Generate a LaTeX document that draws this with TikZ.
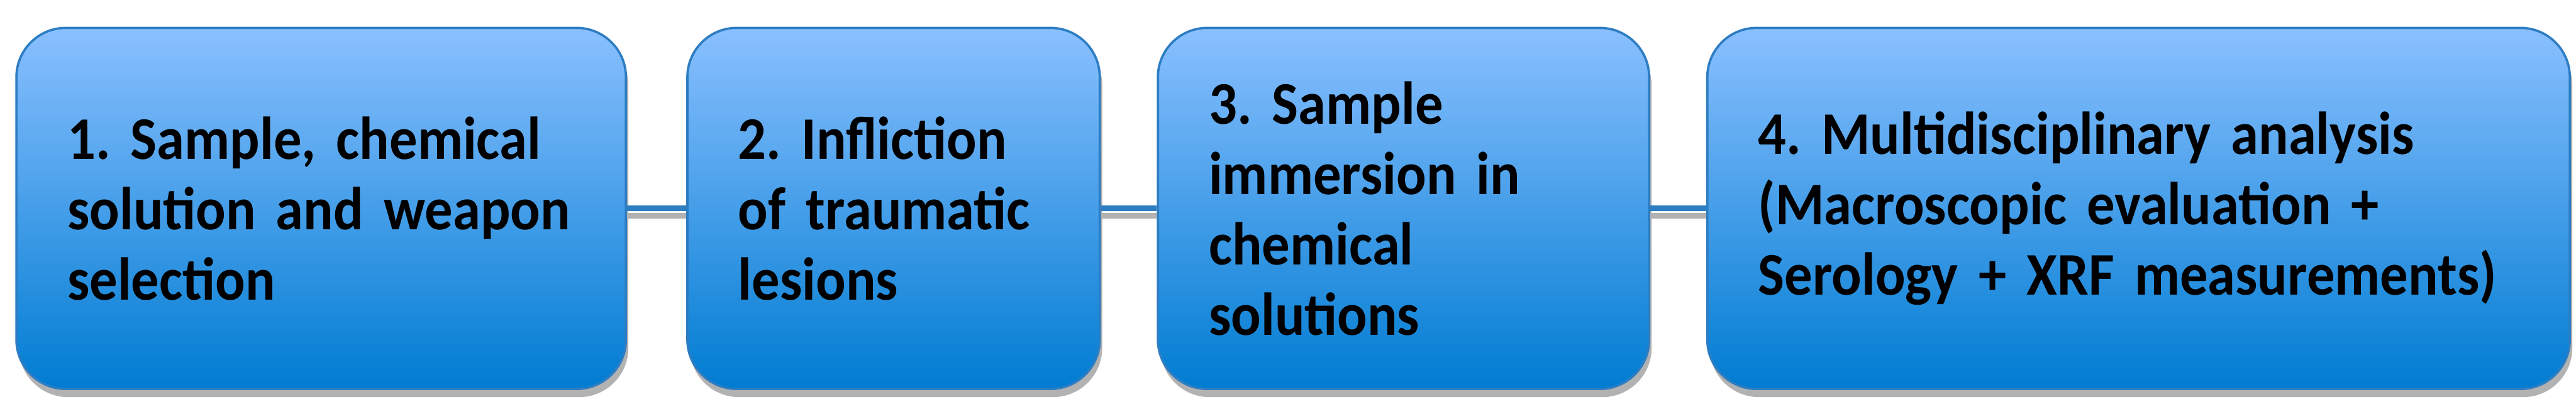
\documentclass[tikz,border=0pt]{standalone}
\usepackage{fontspec}
\setmainfont{Carlito}[FakeStretch=0.92, WordSpace=0.7]
\usepackage{xcolor}
\usepackage{tikz}
\usetikzlibrary{positioning,shadows}
\definecolor{stagetop}{RGB}{138, 192, 255}
\definecolor{stagebot}{RGB}{0, 124, 210}
\definecolor{stageline}{RGB}{45, 125, 195}
\frenchspacing

\tikzset{
  stage/.style={rectangle, rounded corners=0.6cm, draw=stageline, line width=0.8pt,
    top color=stagetop, bottom color=stagebot, minimum height=4.4cm,
    inner xsep=0.62cm, align=left, font=\fontsize{21}{24.4}\selectfont\bfseries,
    drop shadow={shadow xshift=0.03cm, shadow yshift=-0.1cm, opacity=0.3, fill=black}},
  link/.style={draw=stageline, line width=2pt,
    preaction={draw=black!30, line width=2pt, transform canvas={yshift=-0.09cm}}}
}

\begin{document}
\hyphenpenalty=10000
\exhyphenpenalty=10000
\begin{tikzpicture}
  \useasboundingbox (0,0) rectangle (31.36,5.1);

  % Stages
  \node[stage, minimum width=7.42cm, text width=6.18cm] (s1) at (3.91,2.56)
    {1.~Sample,~chemical\\solution~and~weapon\\selection};
  \node[stage, minimum width=5.02cm, text width=3.78cm, right=0.72cm of s1] (s2)
    {2.~Infliction\\of~traumatic\\lesions};
  \node[stage, minimum width=5.98cm, text width=4.74cm, right=0.68cm of s2] (s3)
    {3.~Sample\\immersion~in\\chemical\\solutions};
  \node[stage, minimum width=10.5cm, text width=9.26cm, right=0.68cm of s3] (s4)
    {4.~Multidisciplinary~analysis\\(Macroscopic~evaluation~+\\Serology~+~XRF~measurements)};

  % Links
  \draw[link] (s1) -- (s2);
  \draw[link] (s2) -- (s3);
  \draw[link] (s3) -- (s4);
\end{tikzpicture}
\end{document}
